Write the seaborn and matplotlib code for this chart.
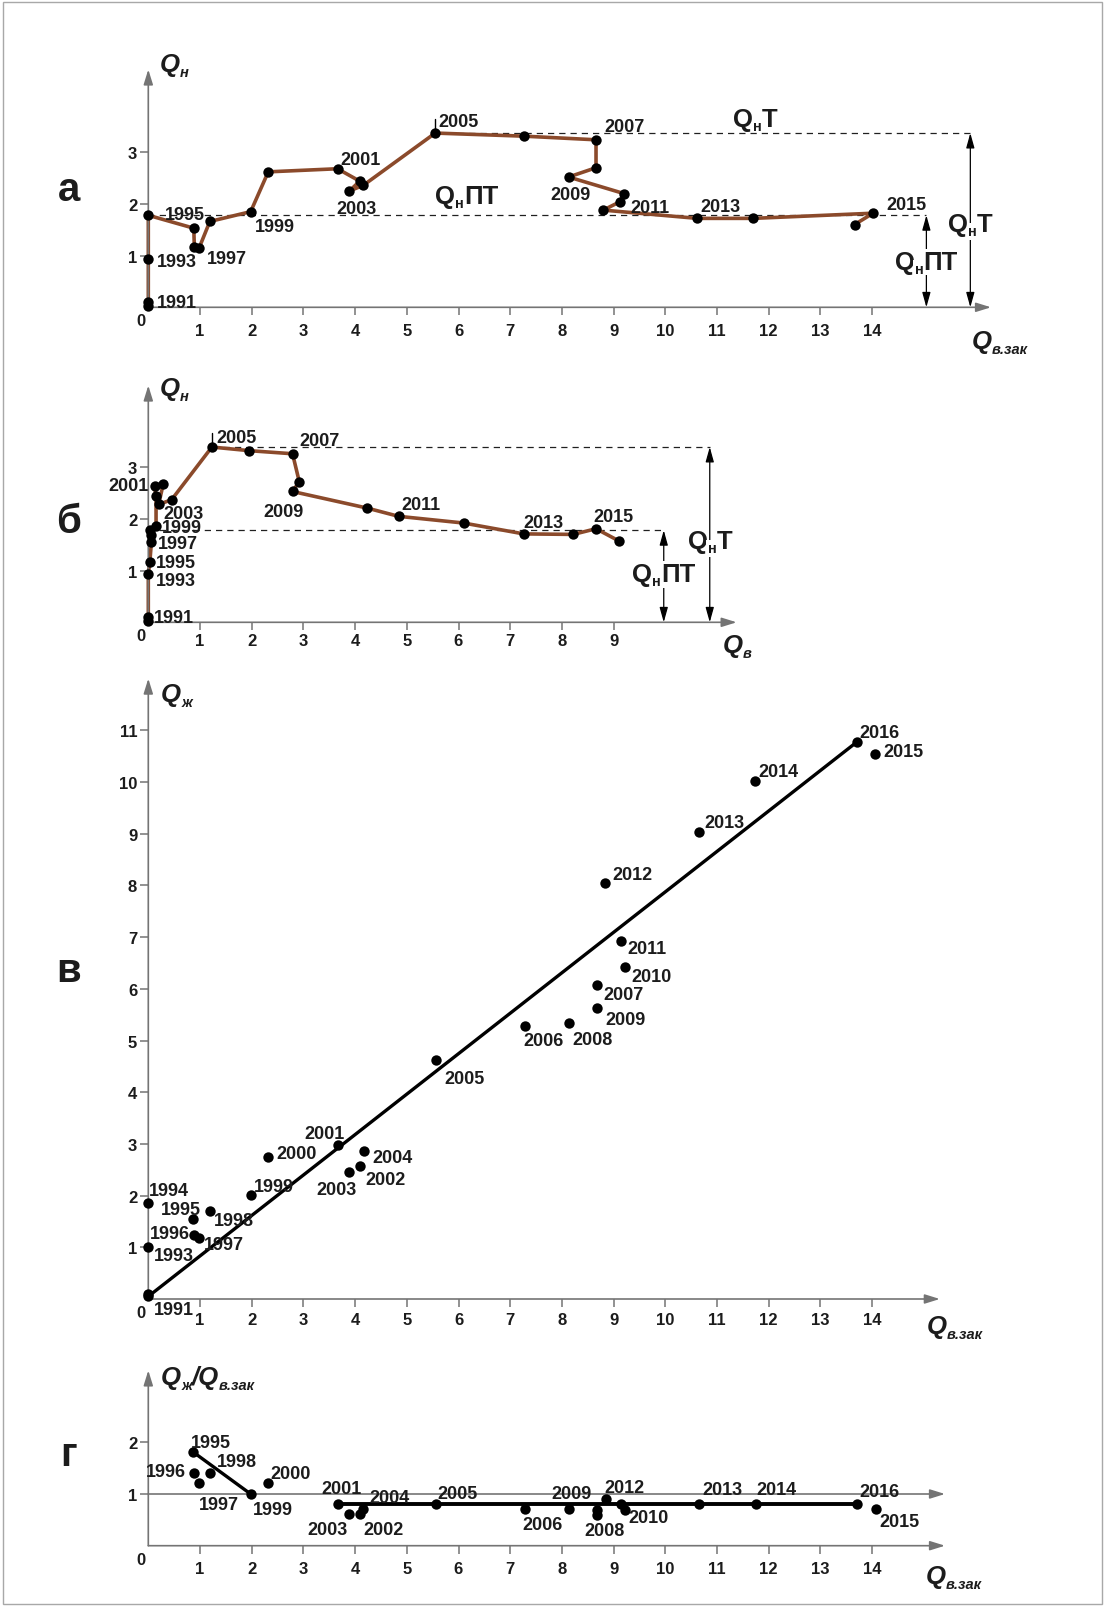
import matplotlib
matplotlib.use("Agg")
import matplotlib.pyplot as plt
from matplotlib.transforms import IdentityTransform
from matplotlib.patches import Rectangle
import seaborn as sns

# ---------------- data ----------------
# а: oil rate Q_н versus cumulative injected water Q_в.зак, chronological path 1991-2016
a_qv = [0.00, 0.00, 0.00, 0.00, 0.88, 0.89, 0.98, 1.19, 1.98, 2.32, 3.66, 4.09, 3.89,
        4.16, 5.55, 7.27, 8.66, 8.66, 8.13, 9.20, 9.12, 8.80, 10.62, 11.70, 14.02, 13.66]
a_qn = [0.03, 0.10, 0.93, 1.78, 1.53, 1.17, 1.14, 1.66, 1.85, 2.62, 2.68, 2.44, 2.25,
        2.36, 3.37, 3.31, 3.24, 2.70, 2.52, 2.20, 2.04, 1.88, 1.72, 1.72, 1.82, 1.60]

# б: oil rate Q_н versus water rate Q_в
b_qw = [0.00, 0.00, 0.00, 0.03, 0.06, 0.06, 0.03, 0.15, 0.15, 0.12, 0.29, 0.20, 0.45,
        1.23, 1.95, 2.79, 2.92, 2.79, 4.23, 4.84, 6.10, 7.26, 8.22, 8.66, 9.11]
b_qn = [0.03, 0.10, 0.94, 1.17, 1.55, 1.68, 1.79, 1.86, 2.44, 2.63, 2.68, 2.28, 2.37,
        3.39, 3.32, 3.26, 2.72, 2.53, 2.21, 2.05, 1.92, 1.71, 1.70, 1.81, 1.57]

# в: liquid rate Q_ж versus cumulative injection, one point per year
v_years = list(range(1991, 2017))
v_qv = [0.00, 0.00, 0.00, 0.00, 0.87, 0.89, 0.99, 1.19, 1.98, 2.32, 3.66, 4.10, 3.89,
        4.17, 5.56, 7.28, 8.68, 8.14, 8.67, 9.22, 9.15, 8.83, 10.66, 11.73, 14.06, 13.70]
v_ql = [0.05, 0.10, 1.00, 1.85, 1.55, 1.24, 1.18, 1.71, 2.01, 2.74, 2.97, 2.58, 2.45,
        2.86, 4.62, 5.28, 6.07, 5.34, 5.62, 6.43, 6.92, 8.04, 9.04, 10.01, 10.54, 10.77]

# г: ratio Q_ж / Q_в.зак versus cumulative injection
g_years = list(range(1995, 2017))
g_qv = [0.87, 0.89, 0.98, 1.19, 1.98, 2.32, 3.66, 4.10, 3.89, 4.16, 5.56, 7.28, 8.67,
        8.67, 8.14, 9.22, 9.15, 8.85, 10.65, 11.75, 14.08, 13.70]
g_ratio = [1.81, 1.40, 1.21, 1.41, 1.00, 1.21, 0.81, 0.61, 0.61, 0.71, 0.81, 0.71, 0.70,
           0.60, 0.71, 0.70, 0.80, 0.90, 0.80, 0.80, 0.71, 0.81]

# year annotations: (text, x, y) in data units, text left edge / cap centre
a_labels = [("1991", 0.16, 0.13), ("1993", 0.16, 0.92), ("1995", 0.32, 1.83),
            ("1997", 1.13, 0.99), ("1999", 2.06, 1.60), ("2001", 3.72, 2.90),
            ("2003", 3.64, 1.94), ("2005", 5.61, 3.63), ("2007", 8.83, 3.53),
            ("2009", 7.77, 2.22), ("2011", 9.33, 1.96), ("2013", 10.67, 1.99),
            ("2015", 14.27, 2.02)]
b_labels = [("1991", 0.11, 0.13), ("1993", 0.15, 0.84), ("1995", 0.15, 1.19),
            ("1997", 0.19, 1.56), ("1999", 0.26, 1.87), ("2001", -0.77, 2.68),
            ("2003", 0.29, 2.14), ("2005", 1.31, 3.61), ("2007", 2.93, 3.55),
            ("2009", 2.22, 2.19), ("2011", 4.90, 2.31), ("2013", 7.25, 1.97),
            ("2015", 8.60, 2.09)]
v_labels = [("1991", 0.10, -0.16), ("1993", 0.10, 0.87), ("1994", 0.02, 2.13),
            ("1995", 0.25, 1.76), ("1996", 0.03, 1.30), ("1997", 1.08, 1.10),
            ("1998", 1.27, 1.55), ("1999", 2.04, 2.22), ("2000", 2.47, 2.86),
            ("2001", 3.02, 3.24), ("2002", 4.19, 2.35), ("2003", 3.26, 2.15),
            ("2004", 4.34, 2.77), ("2005", 5.72, 4.31), ("2006", 7.25, 5.03),
            ("2007", 8.81, 5.93), ("2008", 8.21, 5.05), ("2009", 8.85, 5.45),
            ("2010", 9.35, 6.27), ("2011", 9.27, 6.82), ("2012", 8.98, 8.25),
            ("2013", 10.75, 9.26), ("2014", 11.80, 10.24), ("2015", 14.22, 10.62),
            ("2016", 13.75, 11.00)]
g_labels = [("1995", 0.82, 2.04), ("1996", -0.04, 1.48), ("1997", 0.97, 0.83),
            ("1998", 1.32, 1.66), ("1999", 2.02, 0.74), ("2000", 2.37, 1.44),
            ("2001", 3.35, 1.15), ("2002", 4.16, 0.36), ("2003", 3.08, 0.36),
            ("2004", 4.27, 0.97), ("2005", 5.59, 1.05), ("2006", 7.24, 0.45),
            ("2008", 8.43, 0.34), ("2009", 7.80, 1.05), ("2010", 9.28, 0.59),
            ("2012", 8.83, 1.17), ("2013", 10.71, 1.13), ("2014", 11.76, 1.13),
            ("2015", 14.15, 0.50), ("2016", 13.75, 1.08)]

# ---------------- style ----------------
sns.set_style("white")
plt.rcParams["font.family"] = ["Liberation Sans", "DejaVu Sans"]
plt.rcParams["font.weight"] = "bold"

W, H, DPI = 1105, 1608, 100
X0 = 148.3      # pixel column of x = 0
U = 51.7        # pixels per data unit (both axes)
GREY = "#747474"
BROWN = "#8b4a2b"
TXT = "#1c1c1c"
YEAR_FS = 13
TICK_FS = 12
Q_FS = 18.5
SUB_FS = 10.5

fig = plt.figure(figsize=(W / DPI, H / DPI), dpi=DPI)
fig.patch.set_facecolor("white")
renderer = fig.canvas.get_renderer()


def make_axes(xmax, ymax, y0, xticks, yticks, xpad):
    ax = fig.add_axes([X0 / W, 1 - y0 / H, xmax * U / W, ymax * U / H])
    ax.set_xlim(0, xmax)
    ax.set_ylim(0, ymax)
    for s in ax.spines.values():
        s.set_visible(False)
    ax.set_facecolor("none")
    ax.set_xticks(xticks)
    ax.set_yticks(yticks)
    ax.xaxis.set_ticks_position("bottom")
    ax.yaxis.set_ticks_position("left")
    ax.tick_params(axis="both", direction="out", length=6, width=1.1,
                   color=GREY, labelsize=TICK_FS, labelcolor=TXT)
    ax.tick_params(axis="x", pad=xpad)
    ax.tick_params(axis="y", pad=2.0)
    for lbl in ax.get_xticklabels() + ax.get_yticklabels():
        lbl.set_fontweight("bold")
    arrow = dict(arrowstyle="-|>,head_length=0.9,head_width=0.28", color=GREY,
                 lw=1.2, shrinkA=0, shrinkB=0, mutation_scale=10)
    ax.annotate("", xy=(xmax, 0), xytext=(0, 0), arrowprops=arrow, annotation_clip=False)
    ax.annotate("", xy=(0, ymax), xytext=(0, 0), arrowprops=arrow, annotation_clip=False)
    ax.annotate("0", xy=(-0.14, -0.26), ha="center", va="center", fontsize=TICK_FS,
                fontweight="bold", color=TXT, annotation_clip=False)
    return ax


def year_labels(ax, labels):
    for s, x, y in labels:
        ax.annotate(s, xy=(x, y), xytext=(0, -0.358 * YEAR_FS), textcoords="offset points",
                    ha="left", va="baseline", fontsize=YEAR_FS, fontweight="bold",
                    color=TXT, annotation_clip=False, zorder=5)


def rich_text(ax, x, y, parts, ha="left", bg=False):
    """Place a run of text pieces; parts = (string, size, style, drop_px)."""
    bx, by = ax.transData.transform((x, y))
    items = []
    total = 0.0
    for s, size, style, drop in parts:
        t = fig.text(0, 0, s, fontsize=size, fontweight="bold", fontstyle=style,
                     color=TXT, transform=IdentityTransform(), ha="left", va="baseline",
                     zorder=7 if drop else 6)
        if bg:
            t.set_bbox(dict(facecolor="white", edgecolor="none", pad=1.0))
        w = t.get_window_extent(renderer).width
        items.append((t, w, drop))
        total += w
    cap = parts[0][1] * DPI / 72 * 0.716
    base = by - cap / 2
    cx = bx - total / 2 if ha == "center" else bx
    for t, w, drop in items:
        t.set_position((cx, base - drop))
        cx += w


def q_sub(sub, style="italic"):
    return [("Q", Q_FS, style, 0), (sub, SUB_FS, style, 5)]


def level_arrow(ax, x, y):
    ax.annotate("", xy=(x, y), xytext=(x, 0),
                arrowprops=dict(arrowstyle="<|-|>,head_length=0.9,head_width=0.25",
                                color="black", lw=0.9, shrinkA=0, shrinkB=0,
                                mutation_scale=10), annotation_clip=False)


def dashed(ax, x0, x1, y):
    ax.plot([x0, x1], [y, y], color="#202020", lw=0.9, ls=(0, (5, 4)), zorder=1)


def path(ax, xs, ys, color, lw):
    sns.lineplot(x=xs, y=ys, sort=False, estimator=None, color=color, lw=lw, ax=ax,
                 clip_on=False, zorder=2)


def dots(ax, xs, ys):
    sns.scatterplot(x=xs, y=ys, color="black", s=56, linewidth=0, ax=ax,
                    clip_on=False, zorder=4)


qt = [("Q", Q_FS, "normal", 0), ("н", SUB_FS, "normal", 4), ("T", Q_FS, "normal", 0)]
qpt = [("Q", Q_FS, "normal", 0), ("н", SUB_FS, "normal", 4), ("ПТ", Q_FS, "normal", 0)]

# ---------------- panel а ----------------
ax_a = make_axes(16.3, 4.6, 308.3, range(1, 15), [1, 2, 3], xpad=5.0)
i_top = a_qn.index(max(a_qn))
qn_t, qn_pt = a_qn[i_top], a_qn[3]
dashed(ax_a, a_qv[i_top], 15.9, qn_t)
dashed(ax_a, 0, 15.05, qn_pt)
ax_a.plot([a_qv[i_top]] * 2, [qn_t, qn_t + 0.27], color="black", lw=1, zorder=1)
path(ax_a, a_qv, a_qn, BROWN, 2.6)
dots(ax_a, a_qv, a_qn)
level_arrow(ax_a, 15.05, qn_pt)
level_arrow(ax_a, 15.9, qn_t)
year_labels(ax_a, a_labels)
rich_text(ax_a, 0.23, 4.74, q_sub("н"))
rich_text(ax_a, 15.93, -0.6, q_sub("в.зак"))
rich_text(ax_a, 11.3, 3.68, qt)
rich_text(ax_a, 5.55, 2.2, qpt)
rich_text(ax_a, 15.9, 1.65, qt, ha="center", bg=True)
rich_text(ax_a, 15.05, 0.92, qpt, ha="center", bg=True)

# ---------------- panel б ----------------
ax_b = make_axes(11.38, 4.58, 623.3, range(1, 10), [1, 2, 3], xpad=1.5)
j_top = b_qn.index(max(b_qn))
dashed(ax_b, b_qw[j_top], 10.86, b_qn[j_top])
dashed(ax_b, 0, 9.97, qn_pt)
ax_b.plot([b_qw[j_top]] * 2, [b_qn[j_top], b_qn[j_top] + 0.27], color="black", lw=1, zorder=1)
path(ax_b, b_qw, b_qn, BROWN, 2.6)
dots(ax_b, b_qw, b_qn)
level_arrow(ax_b, 9.97, qn_pt)
level_arrow(ax_b, 10.86, b_qn[j_top])
year_labels(ax_b, b_labels)
rich_text(ax_b, 0.23, 4.57, q_sub("н"))
rich_text(ax_b, 11.11, -0.39, q_sub("в"))
rich_text(ax_b, 10.86, 1.61, qt, ha="center", bg=True)
rich_text(ax_b, 9.97, 0.97, qpt, ha="center", bg=True)

# ---------------- panel в ----------------
ax_v = make_axes(15.31, 12.0, 1300.0, range(1, 15), range(1, 12), xpad=3.5)
path(ax_v, [v_qv[0], v_qv[-1]], [v_ql[0], v_ql[-1]], "black", 2.4)
dots(ax_v, v_qv, v_ql)
year_labels(ax_v, v_labels)
rich_text(ax_v, 0.25, 11.74, q_sub("ж"))
rich_text(ax_v, 15.06, -0.48, q_sub("в.зак"))

# ---------------- panel г ----------------
ax_g = make_axes(15.41, 3.39, 1546.7, range(1, 15), [1, 2], xpad=5.0)
ax_g.annotate("", xy=(15.41, 1), xytext=(0, 1),
              arrowprops=dict(arrowstyle="-|>,head_length=0.9,head_width=0.28", color=GREY,
                              lw=1.2, shrinkA=0, shrinkB=0, mutation_scale=10),
              annotation_clip=False)
path(ax_g, [g_qv[0], g_qv[4]], [g_ratio[0], g_ratio[4]], "black", 2.4)
path(ax_g, [g_qv[6], g_qv[-1]], [g_ratio[6], g_ratio[-1]], "black", 2.8)
dots(ax_g, g_qv, g_ratio)
year_labels(ax_g, g_labels)
rich_text(ax_g, 0.25, 3.31, [("Q", Q_FS, "italic", 0), ("ж", SUB_FS, "italic", 5),
                             ("/Q", Q_FS, "italic", 0), ("в.зак", SUB_FS, "italic", 5)])
rich_text(ax_g, 15.04, -0.55, q_sub("в.зак"))

# ---------------- panel letters and frame ----------------
for letter, base in [("а", 201), ("б", 533), ("в", 982), ("г", 1466)]:
    fig.text(68.7 / W, 1 - base / H, letter, fontsize=29, fontweight="bold",
             color=TXT, ha="center", va="baseline")
fig.add_artist(Rectangle((3 / W, 3 / H), 1 - 6 / W, 1 - 6 / H, transform=fig.transFigure,
                         fill=False, edgecolor="#a8a8a8", lw=1.0))

fig.savefig("out.png", dpi=DPI, facecolor="white")
